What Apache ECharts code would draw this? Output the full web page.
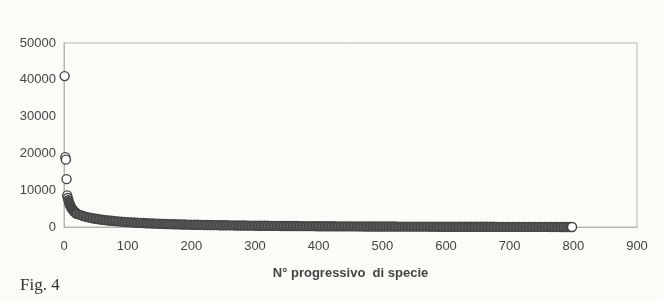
<!DOCTYPE html>
<html>
<head>
<meta charset="utf-8">
<script src="https://cdn.jsdelivr.net/npm/echarts@6/dist/echarts.min.js"></script>
<style>
html, body { margin: 0; padding: 0; background: #fbfbf8; }
#chart { width: 663px; height: 301px; }
</style>
</head>
<body>
<div id="chart"></div>
<script>
// rank of species (N° progressivo) and number of individuals
var ranks = [1, 2, 3, 4, 5, 6, 7, 8, 9, 10, 11, 12, 13, 14, 15, 16, 17, 18, 19, 20,
  25, 30, 35, 40, 45, 50, 55, 60, 65, 70, 75, 80, 85, 90, 95, 100,
  105, 110, 115, 120, 125, 130, 135, 140, 145, 150, 155, 160, 165, 170, 175, 180, 185, 190, 195, 200,
  205, 210, 215, 220, 225, 230, 235, 240, 245, 250, 255, 260, 265, 270, 275, 280, 285, 290, 295, 300,
  305, 310, 315, 320, 325, 330, 335, 340, 345, 350, 355, 360, 365, 370, 375, 380, 385, 390, 395, 400,
  405, 410, 415, 420, 425, 430, 435, 440, 445, 450, 455, 460, 465, 470, 475, 480, 485, 490, 495, 500,
  505, 510, 515, 520, 525, 530, 535, 540, 545, 550, 555, 560, 565, 570, 575, 580, 585, 590, 595, 600,
  605, 610, 615, 620, 625, 630, 635, 640, 645, 650, 655, 660, 665, 670, 675, 680, 685, 690, 695, 700,
  705, 710, 715, 720, 725, 730, 735, 740, 745, 750, 755, 760, 765, 770, 775, 780, 785, 790, 795, 798]
var individuals = [41000, 19000, 18300, 13000, 8600, 7900, 7300, 6700, 6200, 5800, 5400, 5100, 4850, 4600, 4400, 4200, 4050, 3900, 3750, 3600,
  3300, 3000, 2750, 2550, 2380, 2230, 2100, 1980, 1870, 1770, 1680, 1600, 1520, 1450, 1380, 1320,
  1260, 1210, 1160, 1110, 1070, 1030, 990, 950, 915, 880, 850, 820, 790, 765, 740, 715, 690, 670, 650, 630,
  610, 592, 575, 558, 542, 527, 512, 498, 484, 470, 457, 445, 433, 421, 410, 399, 388, 378, 368, 358,
  349, 340, 331, 322, 314, 306, 298, 290, 283, 276, 269, 262, 255, 249, 243, 237, 231, 225, 219, 214,
  208, 203, 198, 193, 188, 183, 178, 174, 170, 166, 162, 158, 154, 150, 146, 142, 139, 136, 133, 130,
  127, 124, 121, 118, 115, 112, 109, 106, 103, 100, 97, 94, 92, 90, 88, 86, 84, 82, 80, 78,
  76, 74, 72, 70, 68, 66, 64, 62, 60, 58, 56, 54, 52, 50, 48, 46, 44, 42, 40, 38,
  36, 34, 32, 30, 28, 27, 26, 25, 24, 23, 22, 21, 20, 18, 16, 14, 12, 10, 8, 5]
var xTicks = { min: 0, max: 900, step: 100 }
var yTicks = { min: 0, max: 50000, step: 10000 }

var points = ranks.map(function (r, i) { return [r, individuals[i]] })
var lastRank = ranks[ranks.length - 1]

var chart = echarts.init(document.getElementById('chart'))
var option = {
  backgroundColor: '#fbfbf8',
  animation: false,
  textStyle: { fontFamily: 'Liberation Sans, Arial, sans-serif' },
  graphic: [
    {
      type: 'text',
      left: 20,
      top: 277,
      style: { text: 'Fig. 4', font: '17px "Liberation Serif", "DejaVu Serif", serif', fill: '#333' }
    }
  ],
  grid: {
    left: 64,
    right: 26,
    top: 43,
    bottom: 74,
    show: true,
    borderColor: '#b5b5b5',
    borderWidth: 1,
    backgroundColor: 'transparent'
  },
  xAxis: {
    type: 'value',
    min: xTicks.min,
    max: xTicks.max,
    interval: xTicks.step,
    name: 'N° progressivo  di specie',
    nameLocation: 'middle',
    nameGap: 40,
    nameTextStyle: { fontSize: 13, fontWeight: 'bold', color: '#444' },
    axisLine: { lineStyle: { color: '#b5b5b5' } },
    axisTick: { show: false },
    splitLine: { show: false },
    axisLabel: { color: '#444', fontSize: 13, margin: 13 }
  },
  yAxis: {
    type: 'value',
    min: yTicks.min,
    max: yTicks.max,
    interval: yTicks.step,
    axisLine: { show: true, lineStyle: { color: '#b5b5b5' } },
    axisTick: { show: false },
    splitLine: { show: false },
    axisLabel: {
      color: '#444',
      fontSize: 13,
      margin: 8,
      formatter: function (v) { return String(v) }
    }
  },
  series: [
    {
      type: 'scatter',
      data: points,
      symbol: 'circle',
      symbolSize: 9,
      itemStyle: {
        // the dense tail prints as a solid grey band
        color: function (p) {
          var r = p.value[0]
          return (r >= 7 && r < lastRank) ? '#5a5a5a' : '#ffffff'
        },
        borderColor: '#444',
        borderWidth: 1.4,
        opacity: 1
      }
    }
  ]
}
chart.setOption(option)
</script>
</body>
</html>
